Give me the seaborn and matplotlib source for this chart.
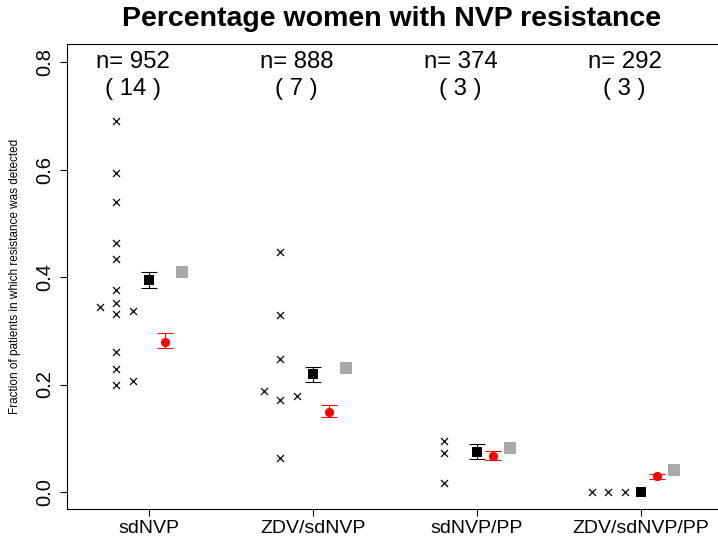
import matplotlib
matplotlib.use("Agg")
import matplotlib.pyplot as plt
import seaborn as sns
import pandas as pd
import numpy as np

# ---------------- data ----------------
categories = ["sdNVP", "ZDV/sdNVP", "sdNVP/PP", "ZDV/sdNVP/PP"]
n_women = [952, 888, 374, 292]
n_studies = [14, 7, 3, 3]

# individual study fractions (crosses)
cross_group = [0] * 14 + [1] * 7 + [2] * 3 + [3] * 3
cross_value = [0.691, 0.593, 0.540, 0.464, 0.433, 0.375, 0.351, 0.331,
               0.344, 0.337, 0.260, 0.229, 0.199, 0.207,
               0.446, 0.329, 0.247, 0.171, 0.188, 0.179, 0.064,
               0.095, 0.072, 0.016,
               0.000, 0.000, 0.000]
# side-by-side lane of tied crosses (-1 left, 0 centre, +1 right)
cross_lane = [0, 0, 0, 0, 0, 0, 0, 0,
              -1, 1, 0, 0, 0, 1,
              0, 0, 0, 0, -1, 1, 0,
              0, 0, 0,
              -1, 0, 1]

# pooled estimate (black squares) with interval
black_est = [0.394, 0.220, 0.075, 0.000]
black_lo = [0.379, 0.205, 0.062, 0.000]
black_hi = [0.410, 0.233, 0.090, 0.000]

# second estimate (red circles) with interval
red_est = [0.280, 0.149, 0.067, 0.029]
red_lo = [0.267, 0.139, 0.060, 0.024]
red_hi = [0.295, 0.161, 0.076, 0.033]

# third estimate (grey squares)
grey_est = [0.410, 0.231, 0.082, 0.041]

yticks = [0.0, 0.2, 0.4, 0.6, 0.8]

# ---------------- figure ----------------
sns.set_theme(style="white")
plt.rcParams["font.family"] = ["Liberation Sans", "DejaVu Sans"]
plt.rcParams["text.color"] = "black"
plt.rcParams["xtick.color"] = "black"
plt.rcParams["ytick.color"] = "black"
plt.rcParams["xtick.labelcolor"] = "black"
plt.rcParams["ytick.labelcolor"] = "black"

W, H = 718, 543
fig = plt.figure(figsize=(W / 100, H / 100), dpi=100)
ax_l, ax_r, ax_t, ax_b = 67, 718, 44, 509
ax = fig.add_axes([ax_l / W, 1 - ax_b / H, (ax_r - ax_l) / W, (ax_b - ax_t) / H])

pos = np.arange(1, len(categories) + 1)

crosses = pd.DataFrame({
    "x": pos[np.array(cross_group)] - 0.2 + 0.1 * np.array(cross_lane),
    "y": cross_value,
})
sns.scatterplot(data=crosses, x="x", y="y", marker="x", color="black",
                s=25, linewidth=0.9, ax=ax, zorder=3)

summ = pd.DataFrame({"x": pos, "black": black_est, "red": red_est, "grey": grey_est})


def draw_interval(xs, est, lo, hi, color):
    est, lo, hi, xs = map(np.asarray, (est, lo, hi, xs))
    keep = (hi - lo) > 0  # zero-length intervals are not drawn
    ax.errorbar(xs[keep], est[keep], yerr=[est[keep] - lo[keep], hi[keep] - est[keep]],
                fmt="none", ecolor=color, elinewidth=0.8, capsize=5.8,
                capthick=0.8, zorder=2)


draw_interval(pos, black_est, black_lo, black_hi, "black")
draw_interval(pos + 0.1, red_est, red_lo, red_hi, "red")

sns.scatterplot(x=summ["x"], y=summ["black"], marker="s", color="black",
                s=42, linewidth=0, ax=ax, zorder=4)
sns.scatterplot(x=summ["x"] + 0.1, y=summ["red"], marker="o", color="red",
                s=44, linewidth=0, ax=ax, zorder=4)
sns.scatterplot(x=summ["x"] + 0.2, y=summ["grey"], marker="s", color="#AAAAAA",
                s=76, linewidth=0, ax=ax, zorder=4)

for p, n, k in zip(pos, n_women, n_studies):
    ax.text(p - 0.1, 0.8, f"n= {n}", ha="center", va="center", fontsize=17.3)
    ax.text(p - 0.1, 0.75, f"( {k} )", ha="center", va="center", fontsize=17.3)

ax.set_xlim(0.5, 0.5 + (ax_r - ax_l) / 164.0)
ax.set_ylim((ax_b - 492) / -537.5, (492 - ax_t) / 537.5)
ax.set_xticks(pos)
ax.set_xticklabels(categories, fontsize=14)
ax.set_yticks(yticks)
ax.set_yticklabels([f"{v:.1f}" for v in yticks], fontsize=14.5, rotation=90, va="center")
ax.tick_params(axis="both", direction="out", length=5, width=0.8, color="black",
               left=True, bottom=True)
ax.tick_params(axis="x", pad=3)
ax.tick_params(axis="y", pad=4)
ax.set_xlabel("")
ax.set_ylabel("")
for s in ["left", "bottom", "top"]:
    ax.spines[s].set_visible(True)
    ax.spines[s].set_color("black")
    ax.spines[s].set_linewidth(0.8)
ax.spines["right"].set_visible(False)

fig.text(15 / W, 1 - 276 / H, "Fraction of patients in which resistance was detected",
         rotation=90, ha="center", va="center", fontsize=8.5)
fig.text(392 / W, 1 - 19 / H, "Percentage women with NVP resistance",
         ha="center", va="center", fontsize=20.5, fontweight="bold")

fig.savefig("out.png", dpi=100)
